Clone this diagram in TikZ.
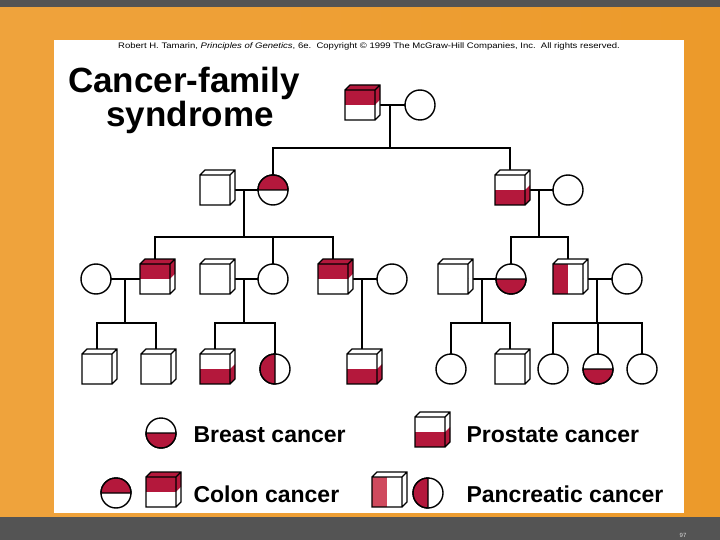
\documentclass[tikz,border=0pt]{standalone}
\usepackage{fontspec}
\setmainfont{Liberation Sans}
\usetikzlibrary{calc}
\definecolor{dred}{HTML}{B4183C}
\definecolor{lred}{HTML}{CF4A5E}
\definecolor{barc}{HTML}{545454}
\definecolor{bgl}{HTML}{EFA33C}
\definecolor{bgm}{HTML}{FBCB3E}
\definecolor{bgr}{HTML}{EC9A2A}
\tikzset{
  sym/.style={line width=1.4pt, line join=miter},
  link/.style={line width=1.6pt},
  keytext/.style={anchor=base west, font=\fontsize{23}{23}\selectfont\bfseries},
  titletext/.style={anchor=base, font=\fontsize{35}{35}\selectfont\bfseries},
}
\newcommand{\malesym}[4]{% square with rim; #2 upper, #3 lower, #4 left half
  \begin{scope}[shift={(#1)}]
    \fill[#2] (-15,-15) rectangle (15,0);
    \fill[#3] (-15,0) rectangle (15,15);
    \path[fill=#4] (-15,-15) rectangle (0,15);
    \fill[#2] (-15,-15) -- (-10,-20) -- (20,-20) -- (15,-15) -- cycle;
    \fill[#2] (15,-15) -- (20,-20) -- (20,-5) -- (15,0) -- cycle;
    \fill[#3] (15,0) -- (20,-5) -- (20,10) -- (15,15) -- cycle;
    \draw[sym] (-15,-15) rectangle (15,15)
      (-15,-15) -- (-10,-20) -- (20,-20) -- (20,10) -- (15,15)
      (15,-15) -- (20,-20);
  \end{scope}}
\newcommand{\femalesym}[1]{\filldraw[sym, fill=white] (#1) circle (15);}
\newcommand{\femalehalf}[3]{% red half from angle #2 to #3
  \filldraw[sym, fill=white] (#1) circle (15);
  \filldraw[sym, fill=dred] (#1) ++(#2:15) arc (#2:#3:15) -- cycle;}

\begin{document}
\begin{tikzpicture}[x=1pt, y=-1pt]
  \useasboundingbox (0,0) rectangle (720,540);
  % slide background
  \shade[left color=bgl, middle color=bgm, right color=bgr] (0,0) rectangle (720,540);
  \fill[barc] (0,0) rectangle (720,7);
  \fill[barc] (0,517) rectangle (720,540);
  \fill[white] (54,40) rectangle (684,513);
  \node[anchor=base, font=\fontsize{6}{6}\selectfont, text=gray!25] (page) at (683,537) {97};
  \node[anchor=base, font=\fontsize{8}{8}\selectfont] (credit) at (369,49)
    {\scalebox{1.19}[1]{Robert H. Tamarin, \textit{Principles of Genetics}, 6e.\ \ Copyright © 1999 The McGraw-Hill Companies, Inc.\ \ All rights reserved.}};
  \node[titletext] (title1) at (184,93) {Cancer-family};
  \node[titletext] (title2) at (190,127) {syndrome};

  % individuals
  \coordinate (A) at (360,105);
  \coordinate (B) at (420,105);
  \coordinate (C) at (215,190);
  \coordinate (D) at (273,190);
  \coordinate (E) at (510,190);
  \coordinate (F) at (568,190);
  \coordinate (G) at (96,279);
  \coordinate (H) at (155,279);
  \coordinate (I) at (215,279);
  \coordinate (J) at (273,279);
  \coordinate (K) at (333,279);
  \coordinate (L) at (392,279);
  \coordinate (M) at (453,279);
  \coordinate (N) at (511,279);
  \coordinate (O) at (568,279);
  \coordinate (P) at (627,279);
  \coordinate (Q) at (97,369);
  \coordinate (R) at (156,369);
  \coordinate (S) at (215,369);
  \coordinate (T) at (275,369);
  \coordinate (U) at (362,369);
  \coordinate (V) at (451,369);
  \coordinate (W) at (510,369);
  \coordinate (X) at (553,369);
  \coordinate (Y) at (598,369);
  \coordinate (Z) at (642,369);
  % sibship junctions
  \coordinate (j1) at (390,148);
  \coordinate (j2) at (244,237);
  \coordinate (j3) at (539,237);
  \coordinate (j4) at (125,323);
  \coordinate (j5) at (244,323);
  \coordinate (j6) at (362,323);
  \coordinate (j7) at (482,323);
  \coordinate (j8) at (597,323);

  % matings and descent lines
  \foreach \a/\b in {A/B,C/D,E/F,G/H,I/J,K/L,M/N,O/P}
    \draw[link] (\a) -- (\b);
  \draw[link] (j1) -- (j1 |- A);
  \draw[link] (j2) -- (j2 |- C);
  \draw[link] (j3) -- (j3 |- E);
  \draw[link] (j4) -- (j4 |- G);
  \draw[link] (j5) -- (j5 |- I);
  \draw[link] (j6) -- (j6 |- K);
  \draw[link] (j7) -- (j7 |- M);
  \draw[link] (j8) -- (j8 |- O);
  % sibships
  \draw[link] (D) |- (j1) -| (E);
  \draw[link] (H) |- (j2) -| (K);
  \draw[link] (J) -- (J |- j2);
  \draw[link] (N) |- (j3) -| (O);
  \draw[link] (Q) |- (j4) -| (R);
  \draw[link] (S) |- (j5) -| (T);
  \draw[link] (U) -- (j6);
  \draw[link] (V) |- (j7) -| (W);
  \draw[link] (X) |- (j8) -| (Z);
  \draw[link] (Y) -- (Y |- j8);

  % symbols
  \malesym{A}{dred}{white}{none}
  \femalesym{B}
  \malesym{C}{white}{white}{none}
  \femalehalf{D}{180}{360}
  \malesym{E}{white}{dred}{none}
  \femalesym{F}
  \femalesym{G}
  \malesym{H}{dred}{white}{none}
  \malesym{I}{white}{white}{none}
  \femalesym{J}
  \malesym{K}{dred}{white}{none}
  \femalesym{L}
  \malesym{M}{white}{white}{none}
  \femalehalf{N}{0}{180}
  \malesym{O}{white}{white}{dred}
  \femalesym{P}
  \malesym{Q}{white}{white}{none}
  \malesym{R}{white}{white}{none}
  \malesym{S}{white}{dred}{none}
  \femalehalf{T}{90}{270}
  \malesym{U}{white}{dred}{none}
  \femalesym{V}
  \malesym{W}{white}{white}{none}
  \femalesym{X}
  \femalehalf{Y}{0}{180}
  \femalesym{Z}

  % key
  \coordinate (kb) at (161,433);
  \coordinate (kc1) at (116,493);
  \coordinate (kc2) at (161,492);
  \coordinate (kp) at (430,432);
  \coordinate (kn1) at (387,492);
  \coordinate (kn2) at (428,493);
  \femalehalf{kb}{0}{180}
  \femalehalf{kc1}{180}{360}
  \malesym{kc2}{dred}{white}{none}
  \malesym{kp}{white}{dred}{none}
  \malesym{kn1}{white}{white}{lred}
  \femalehalf{kn2}{90}{270}
  \node[keytext] (breast) at (190,442) {Breast cancer};
  \node[keytext] (colon) at (190,502) {Colon cancer};
  \node[keytext] (prostate) at (463,442) {Prostate cancer};
  \node[keytext] (pancreas) at (463,502) {Pancreatic cancer};
\end{tikzpicture}
\end{document}
